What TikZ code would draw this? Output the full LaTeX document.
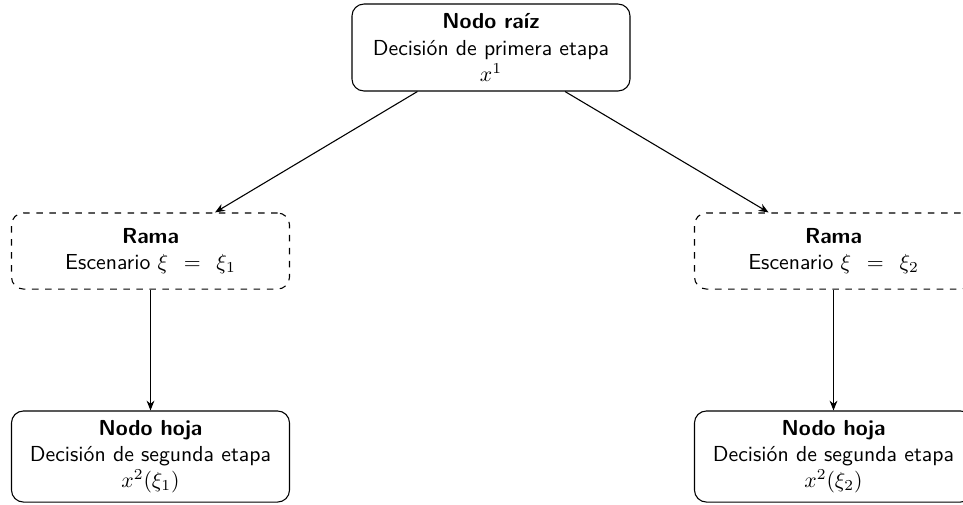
\documentclass[tikz,border=0pt]{standalone}
\usetikzlibrary{arrows.meta}
\begin{document}
\begin{tikzpicture}[x=0.46pt,y=-0.46pt,font=\sffamily,
  box/.style={draw, rounded corners=5.5pt, align=center, minimum width=127.9pt, inner sep=3pt, line width=0.5pt},
  rootbox/.style={box, minimum height=40pt},
  ramabox/.style={box, dashed, minimum height=35pt},
  leafbox/.style={box, minimum height=41.9pt},
  arr/.style={-{Stealth[length=4.5pt,width=3.6pt]}, line width=0.5pt}]
\useasboundingbox (0,0) rectangle (963,504);
\node[rootbox] (root) at (491,47.5) {\textbf{Nodo raíz}\\Decisión de primera etapa\\$x^1$};
\node[ramabox] (ramaL) at (150.5,251) {\textbf{Rama}\\Escenario $\xi\;\,=\;\,\xi_1$};
\node[ramabox] (ramaR) at (833.5,251) {\textbf{Rama}\\Escenario $\xi\;\,=\;\,\xi_2$};
\node[leafbox] (hojaL) at (150.5,456.5) {\textbf{Nodo hoja}\\Decisión de segunda etapa\\$x^2(\xi_1)$};
\node[leafbox] (hojaR) at (833.5,456.5) {\textbf{Nodo hoja}\\Decisión de segunda etapa\\$x^2(\xi_2)$};
\draw[arr] (root) -- (ramaL);
\draw[arr] (root) -- (ramaR);
\draw[arr] (ramaL) -- (hojaL);
\draw[arr] (ramaR) -- (hojaR);
\end{tikzpicture}
\end{document}
